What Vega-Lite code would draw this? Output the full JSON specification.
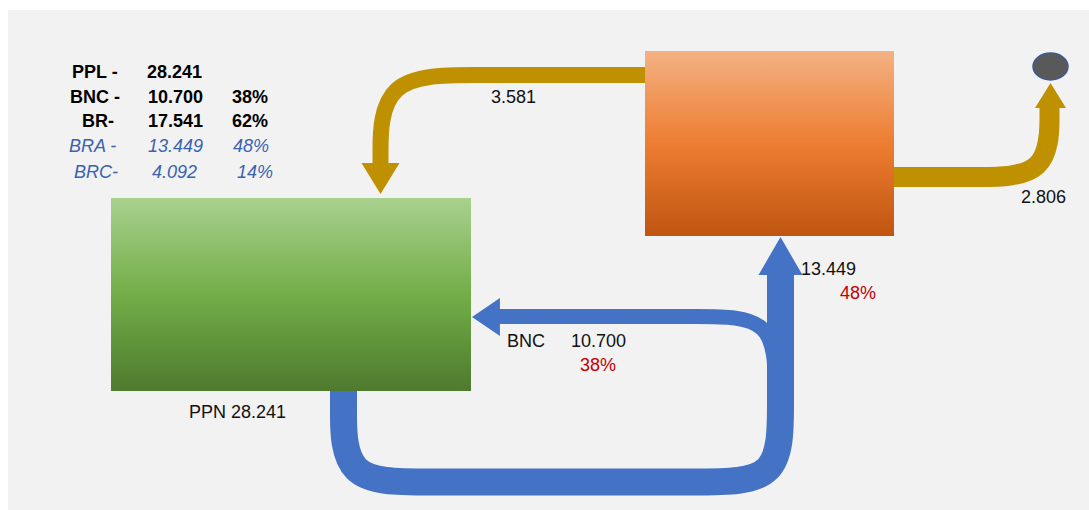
{
  "$schema": "https://vega.github.io/schema/vega-lite/v6.json",
  "width": 1089,
  "height": 510,
  "padding": 0,
  "autosize": {"type": "none"},
  "background": "#ffffff",
  "config": {"view": {"stroke": null}, "text": {"font": "Liberation Sans", "fontSize": 18}},
  "datasets": {
    "panel": [{"x": 8, "x2": 1089, "y": 10, "y2": 510}],
    "ppn": [{"x": 111, "x2": 471, "y": 198, "y2": 391}],
    "reactor": [{"x": 645, "x2": 894, "y": 51, "y2": 236}],
    "loopBR": [
      {"i": 0, "x": 343.5, "y": 380}, {"i": 1, "x": 343.5, "y": 392}, {"i": 2, "x": 343.5, "y": 404},
      {"i": 3, "x": 343.5, "y": 482}, {"i": 4, "x": 422, "y": 482}, {"i": 5, "x": 560, "y": 482},
      {"i": 6, "x": 702, "y": 482}, {"i": 7, "x": 780.5, "y": 482}, {"i": 8, "x": 780.5, "y": 404},
      {"i": 9, "x": 780.5, "y": 320}, {"i": 10, "x": 780.5, "y": 274}
    ],
    "branchBNC": [
      {"i": 0, "x": 499, "y": 316.5}, {"i": 1, "x": 600, "y": 316.5}, {"i": 2, "x": 700, "y": 316.5},
      {"i": 3, "x": 775, "y": 316.5}, {"i": 4, "x": 775, "y": 392}, {"i": 5, "x": 775, "y": 410}
    ],
    "recycleA": [
      {"i": 0, "x": 650, "y": 75}, {"i": 1, "x": 560, "y": 75}, {"i": 2, "x": 478, "y": 75},
      {"i": 3, "x": 380.5, "y": 75}, {"i": 4, "x": 380.5, "y": 164}
    ],
    "purge": [
      {"i": 0, "x": 890, "y": 177}, {"i": 1, "x": 930, "y": 177}, {"i": 2, "x": 973, "y": 177},
      {"i": 3, "x": 1049.5, "y": 177}, {"i": 4, "x": 1049.5, "y": 107}
    ],
    "tipDown": [{"x": 380.5, "y": 194}],
    "tipPurge": [{"x": 1050.5, "y": 83}],
    "tipUp": [{"x": 780.5, "y": 237}],
    "tipLeft": [{"x": 472, "y": 317}],
    "sink": [{"x": 1050.5, "y": 66.5}],
    "tblBold": [
      {"x": 72, "y": 78, "t": "PPL -"}, {"x": 70, "y": 103, "t": "BNC -"}, {"x": 82, "y": 127, "t": "BR-"},
      {"x": 147, "y": 78, "t": "28.241"}, {"x": 148, "y": 103, "t": "10.700"}, {"x": 148, "y": 127, "t": "17.541"},
      {"x": 232, "y": 103, "t": "38%"}, {"x": 232, "y": 127, "t": "62%"}
    ],
    "tblItalic": [
      {"x": 69, "y": 152, "t": "BRA -"}, {"x": 74, "y": 178, "t": "BRC-"},
      {"x": 148, "y": 152, "t": "13.449"}, {"x": 152, "y": 178, "t": "4.092"},
      {"x": 233, "y": 152, "t": "48%"}, {"x": 237, "y": 178, "t": "14%"}
    ],
    "flowLabels": [
      {"x": 491, "y": 103, "t": "3.581"}, {"x": 1021, "y": 203, "t": "2.806"},
      {"x": 801, "y": 275, "t": "13.449"}, {"x": 507, "y": 346.5, "t": "BNC"},
      {"x": 571, "y": 346.5, "t": "10.700"}, {"x": 189, "y": 417.5, "t": "PPN 28.241"}
    ],
    "flowShares": [{"x": 840, "y": 299, "t": "48%"}, {"x": 580, "y": 370.5, "t": "38%"}]
  },
  "encoding": {
    "x": {"field": "x", "type": "quantitative", "scale": {"domain": [0, 1089], "nice": false, "zero": false}, "axis": null},
    "y": {"field": "y", "type": "quantitative", "scale": {"domain": [0, 510], "nice": false, "zero": false, "reverse": true}, "axis": null}
  },
  "layer": [
    {"data": {"name": "panel"}, "mark": {"type": "rect", "color": "#f2f2f2"},
     "encoding": {"x2": {"field": "x2"}, "y2": {"field": "y2"}}},

    {"data": {"name": "loopBR"},
     "mark": {"type": "line", "interpolate": "basis", "strokeWidth": 27, "color": "#4472c4", "strokeCap": "butt", "strokeJoin": "round"},
     "encoding": {"order": {"field": "i", "type": "quantitative"}}},
    {"data": {"name": "branchBNC"},
     "mark": {"type": "line", "interpolate": "basis", "strokeWidth": 15, "color": "#4472c4", "strokeCap": "butt", "strokeJoin": "round"},
     "encoding": {"order": {"field": "i", "type": "quantitative"}}},
    {"data": {"name": "recycleA"},
     "mark": {"type": "line", "interpolate": "basis", "strokeWidth": 16, "color": "#bf9000", "strokeCap": "butt", "strokeJoin": "round"},
     "encoding": {"order": {"field": "i", "type": "quantitative"}}},
    {"data": {"name": "purge"},
     "mark": {"type": "line", "interpolate": "basis", "strokeWidth": 20, "color": "#bf9000", "strokeCap": "butt", "strokeJoin": "round"},
     "encoding": {"order": {"field": "i", "type": "quantitative"}}},

    {"data": {"name": "ppn"},
     "mark": {"type": "rect", "fill": {"gradient": "linear", "x1": 0, "y1": 0, "x2": 0, "y2": 1,
       "stops": [{"offset": 0, "color": "#a9d18e"}, {"offset": 0.5, "color": "#72ae48"}, {"offset": 1, "color": "#4e7a2e"}]}},
     "encoding": {"x2": {"field": "x2"}, "y2": {"field": "y2"}}},
    {"data": {"name": "reactor"},
     "mark": {"type": "rect", "fill": {"gradient": "linear", "x1": 0, "y1": 0, "x2": 0, "y2": 1,
       "stops": [{"offset": 0, "color": "#f4b183"}, {"offset": 0.5, "color": "#ed7d31"}, {"offset": 1, "color": "#c05511"}]}},
     "encoding": {"x2": {"field": "x2"}, "y2": {"field": "y2"}}},

    {"data": {"name": "tipDown"},
     "mark": {"type": "point", "filled": true, "opacity": 1, "shape": "M0,0L-1,-1.63L1,-1.63Z", "size": 1444, "color": "#bf9000", "strokeWidth": 0}},
    {"data": {"name": "tipPurge"},
     "mark": {"type": "point", "filled": true, "opacity": 1, "shape": "M0,0L-1,1.61L1,1.61Z", "size": 961, "color": "#bf9000", "strokeWidth": 0}},
    {"data": {"name": "tipUp"},
     "mark": {"type": "point", "filled": true, "opacity": 1, "shape": "M0,0L-1,1.73L1,1.73Z", "size": 1936, "color": "#4472c4", "strokeWidth": 0}},
    {"data": {"name": "tipLeft"},
     "mark": {"type": "point", "filled": true, "opacity": 1, "shape": "M0,0L1.47,-1L1.47,1Z", "size": 1444, "color": "#4472c4", "strokeWidth": 0}},
    {"data": {"name": "sink"},
     "mark": {"type": "point", "filled": true, "opacity": 1, "shape": "M-1,0A1,0.77,0,1,0,1,0A1,0.77,0,1,0,-1,0Z", "size": 1225,
       "fill": "#595959", "stroke": "#3a5b9a", "strokeWidth": 1.5}},

    {"data": {"name": "tblBold"},
     "mark": {"type": "text", "align": "left", "baseline": "alphabetic", "fontWeight": "bold", "color": "#000000"},
     "encoding": {"text": {"field": "t"}}},
    {"data": {"name": "tblItalic"},
     "mark": {"type": "text", "align": "left", "baseline": "alphabetic", "fontStyle": "italic", "color": "#3a62b0"},
     "encoding": {"text": {"field": "t"}}},
    {"data": {"name": "flowLabels"},
     "mark": {"type": "text", "align": "left", "baseline": "alphabetic", "color": "#111111"},
     "encoding": {"text": {"field": "t"}}},
    {"data": {"name": "flowShares"},
     "mark": {"type": "text", "align": "left", "baseline": "alphabetic", "color": "#c00000"},
     "encoding": {"text": {"field": "t"}}}
  ]
}
